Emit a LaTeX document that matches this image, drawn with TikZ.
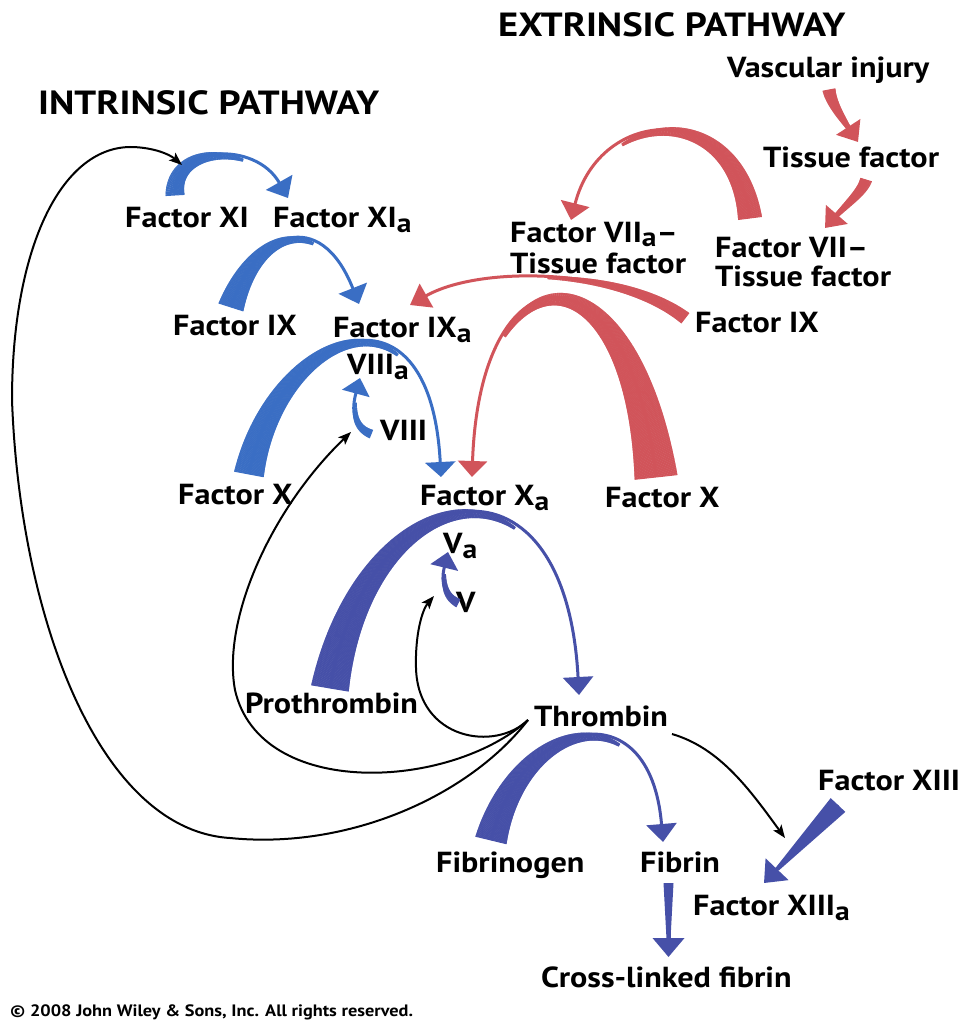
\documentclass[tikz,border=0pt]{standalone}
\usepackage{fontspec}
\setmainfont{PT Sans}[FakeStretch=1.11]
\newfontfamily\ttlfam{PT Sans}[FakeStretch=1.15]
\usetikzlibrary{arrows.meta,decorations.markings}
\definecolor{lb}{RGB}{58,110,196}
\definecolor{db}{RGB}{70,80,168}
\definecolor{rd}{RGB}{209,84,90}
\newcommand\ttlfont{\ttlfam\bfseries\fontsize{33.5}{36}\selectfont}
\newcommand\labfont{\bfseries\fontsize{29}{32}\selectfont}
\newcommand\cpfont{\bfseries\fontsize{16.5}{18}\selectfont}
\newcommand\sba{\raisebox{-0.2em}{\scalebox{0.92}{a}}}
\newcommand\sbb{\raisebox{-0.12em}{\scalebox{0.92}{a}}}
\tikzset{
  lab/.style={anchor=base west, inner sep=0pt, font=\labfont},
  ttl/.style={anchor=base west, inner sep=0pt, font=\ttlfont},
  taper/.style n args={4}{postaction={decorate,decoration={markings,
     mark=between positions 0 and #2 step 0.6pt with {%
       \pgfmathsetmacro\tw{#4/2+(#1/2-#4/2)*(1-(\pgfkeysvalueof{/pgf/decoration/mark info/distance from start})/((#2)*\pgfdecoratedpathlength))}%
       \fill[#3] (-0.5pt,-\tw pt) rectangle (0.5pt,\tw pt);}}}},
  hd/.style 2 args={-{Triangle[length=#1pt,width=#2pt]}},
  bk/.style={draw=black, line width=2pt, -{Stealth[length=13pt,width=10pt,inset=3pt]}},
}
\begin{document}
\begin{tikzpicture}[x=1pt,y=-1pt]
\useasboundingbox[fill=white] (0,0) rectangle (963,1024);

% ---------- labels ----------
\node[ttl] (ext) at (498,37) {EXTRINSIC PATHWAY};
\node[ttl] (int) at (38,115) {INTRINSIC PATHWAY};
\node[lab] (vasc) at (727,78) {Vascular injury};
\node[lab] (tf) at (763,168) {Tissue factor};
\node[lab] (fxi) at (125,227) {Factor XI};
\node[lab] (fxia) at (273,227) {Factor XI\sba};
\node[lab] (f7aA) at (510,243) {Factor VII\sbb--};
\node[lab] (f7aB) at (510,273) {Tissue factor};
\node[lab] (f7A) at (715,258) {Factor VII--};
\node[lab] (f7B) at (715,286) {Tissue factor};
\node[lab] (f9l) at (173,335) {Factor IX};
\node[lab] (f9a) at (333,337) {Factor IX\sba};
\node[lab] (f9r) at (695,332) {Factor IX};
\node[lab] (v8a) at (347,374) {VIII\sba};
\node[lab] (v8) at (380,440) {VIII};
\node[lab] (f10l) at (178,504) {Factor X};
\node[lab] (f10a) at (420,505) {Factor X\sba};
\node[lab] (f10r) at (605,507) {Factor X};
\node[lab] (v5a) at (443,553) {V\sba};
\node[lab] (v5) at (456,612) {V};
\node[lab] (proth) at (245,713) {Prothrombin};
\node[lab] (thr) at (534,726) {Thrombin};
\node[lab] (f13) at (818,790) {Factor XIII};
\node[lab] (fbg) at (436,872) {Fibrinogen};
\node[lab] (fbn) at (640,872) {Fibrin};
\node[lab] (f13a) at (693,915) {Factor XIII\sba};
\node[lab] (xl) at (541,987) {Cross-linked fibrin};
\node[anchor=base west, inner sep=0pt, font=\cpfont] (copy) at (10,1016) {\textcopyright{} 2008 John Wiley \& Sons, Inc. All rights reserved.};

% ---------- end points ----------
\coordinate (a1s) at (175,195); \coordinate (a1e) at (288,198);
\coordinate (a2s) at (231,307); \coordinate (a2e) at (359,304);
\coordinate (a3s) at (249,474); \coordinate (a3e) at (441,477);
\coordinate (a4s) at (371,434); \coordinate (a4e) at (360,378);
\coordinate (a5s) at (458,603); \coordinate (a5e) at (448,552);
\coordinate (a6s) at (330,688); \coordinate (a6e) at (579,695);
\coordinate (a7s) at (491,840); \coordinate (a7e) at (663,842);
\coordinate (a8s) at (668.5,883); \coordinate (a8e) at (668.5,957);
\coordinate (a9s) at (838,805); \coordinate (a9e) at (764,883);
\coordinate (r1s) at (829,90);  \coordinate (r1e) at (858,142);
\coordinate (r2s) at (866,180); \coordinate (r2e) at (825,228);
\coordinate (r3s) at (750,218); \coordinate (r3e) at (571,220);
\coordinate (r4s) at (685,318); \coordinate (r4e) at (410,305);
\coordinate (r5s) at (656,477); \coordinate (r5e) at (472,477);
\coordinate (th1) at (528,720); \coordinate (th2) at (672,734);
\coordinate (b1e) at (182,165); \coordinate (b2e) at (351,432);
\coordinate (b3e) at (434,596); \coordinate (b4e) at (785,838);

% ---------- light blue (intrinsic) ----------
\draw[lb, line width=3pt, hd={18}{30}, taper={19}{0.6}{lb}{3}]
  (a1s) .. controls (172,145) and (255,140) .. (a1e);
\draw[lb, line width=3pt, hd={17}{30}, taper={26}{0.6}{lb}{3}]
  (a2s) .. controls (255,232) and (320,205) .. (a2e);
\draw[lb, line width=3pt, hd={15}{30}, taper={30}{0.62}{lb}{3}]
  (a3s) .. controls (275,335) and (430,265) .. (a3e);
\draw[lb, line width=3pt, hd={16}{28}, taper={9}{0.6}{lb}{3}]
  (a4s) .. controls (356,428) and (350,415) .. (a4e);

% ---------- dark blue (common) ----------
\draw[db, line width=3pt, hd={16}{28}, taper={9}{0.6}{db}{3}]
  (a5s) .. controls (446,597) and (440,585) .. (a5e);
\draw[db, line width=3pt, hd={18}{30}, taper={38}{0.6}{db}{3}]
  (a6s) .. controls (365,480) and (565,430) .. (a6e);
\draw[db, line width=3pt, hd={18}{30}, taper={32}{0.62}{db}{3}]
  (a7s) .. controls (520,720) and (650,685) .. (a7e);
% straight tapered arrows
\fill[db] (663.5,883) -- (673.5,883) -- (670.5,939) -- (666.5,939) -- cycle;
\draw[db, line width=4pt, hd={19}{31}] (a8s) -- (a8e);
\fill[db] (845.3,811.9) -- (830.7,798.1) -- (775.6,867.8) -- (778.6,870.6) -- cycle;
\draw[db, line width=3pt, hd={19}{31}] (a9s) -- (a9e);

% ---------- red (extrinsic) ----------
\draw[rd, line width=4pt, hd={18}{28}, taper={13}{0.8}{rd}{4}]
  (r1s) .. controls (832,106) and (845,122) .. (r1e);
\draw[rd, line width=4pt, hd={18}{28}, taper={12}{0.8}{rd}{4}]
  (r2s) .. controls (862,193) and (845,205) .. (r2e);
\draw[rd, line width=3pt, hd={17}{29}, taper={24}{0.65}{rd}{3}]
  (r3s) .. controls (735,100) and (600,105) .. (r3e);
\draw[rd, line width=3pt, hd={19}{27}, taper={13}{0.5}{rd}{3}]
  (r4s) .. controls (620,268) and (480,265) .. (r4e);
\draw[rd, line width=3pt, hd={16}{29}, taper={43}{0.65}{rd}{3}]
  (r5s) .. controls (630,240) and (480,240) .. (r5e);

% ---------- black feedback arrows ----------
\draw[bk] (th1) .. controls (470,795) and (350,850) .. (230,838)
  .. controls (100,830) and (20,620) .. (12,400)
  .. controls (12,250) and (60,148) .. (130,147)
  .. controls (150,147) and (168,153) .. (b1e);
\draw[bk] (th1) .. controls (450,790) and (260,800) .. (235,690)
  .. controls (222,620) and (270,510) .. (b2e);
\draw[bk] (th1) .. controls (495,752) and (418,740) .. (416,668)
  .. controls (415,635) and (422,610) .. (b3e);
\draw[bk] (th2) .. controls (720,748) and (750,790) .. (b4e);
\end{tikzpicture}
\end{document}
